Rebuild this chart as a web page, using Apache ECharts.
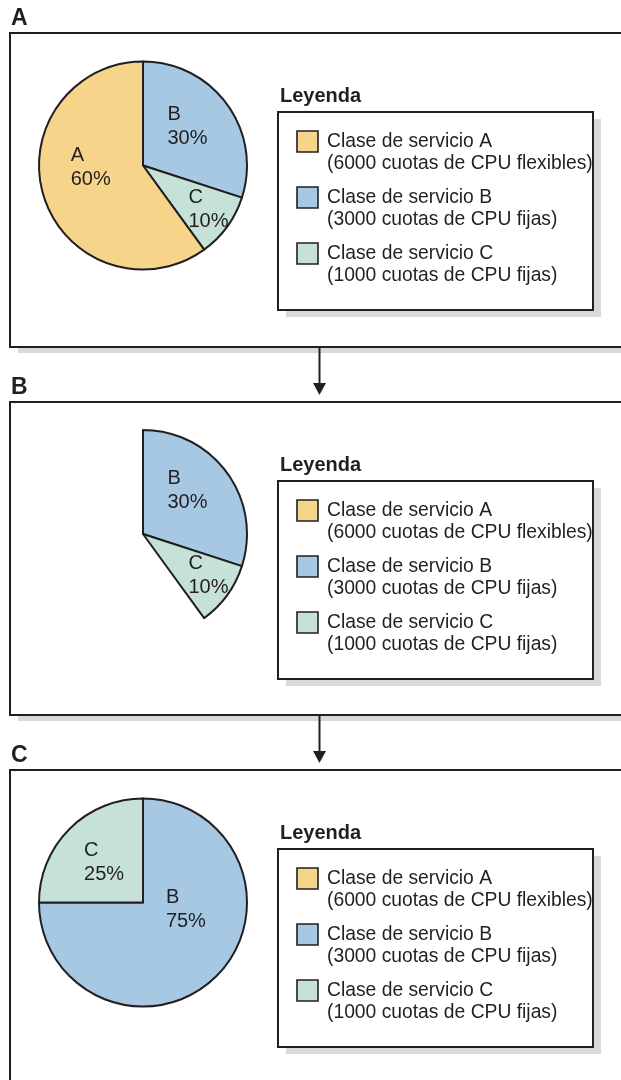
<!DOCTYPE html>
<html>
<head>
<meta charset="utf-8">
<script src="https://cdn.jsdelivr.net/npm/echarts@6/dist/echarts.min.js"></script>
<style>
html, body { margin: 0; padding: 0; background: #fff; }
#container { width: 621px; height: 1080px; }
</style>
</head>
<body>
<div id="container"></div>
<script>
// --- datos ---
var panelLabels = ['A', 'B', 'C'];
var panelASlices = ['B', 'C', 'A'];
var panelAShares = [30, 10, 60];
var panelBSlices = ['B', 'C', 'A'];
var panelBShares = [30, 10, 60];
var panelBHidden = ['A'];          // la clase A ya no tiene cuota en B
var panelCSlices = ['B', 'C'];
var panelCShares = [75, 25];
var legendTitle = 'Leyenda';
var legendKeys = ['A', 'B', 'C'];
var legendNames = ['Clase de servicio A', 'Clase de servicio B', 'Clase de servicio C'];
var legendDetails = ['(6000 cuotas de CPU flexibles)', '(3000 cuotas de CPU fijas)', '(1000 cuotas de CPU fijas)'];

// --- estilo ---
var colors = { A: '#f6d48a', B: '#a7c8e3', C: '#c6e2d8' };
var ink = '#231f20';
var shade = '#d9d9d9';
var font = '"Liberation Sans", Arial, Helvetica, sans-serif';
var panelTop = [33, 402, 770];
var panelBottom = [347, 715, 1200];
var pieCenterY = [165.5, 534, 902.5];
var labelNudge = [
  { A: [0, -15], B: [0, -7], C: [21, 12] },
  { B: [0, -11], C: [21, 9] },
  { B: [4, -32], C: [0, -1] }
];

var dom = document.getElementById('container');
var myChart = echarts.init(dom, null, { renderer: 'canvas' });

function pieSeries(i, names, shares, hidden) {
  hidden = hidden || [];
  return {
    type: 'pie',
    silent: true,
    animation: false,
    center: [143, pieCenterY[i]],
    radius: 104,
    startAngle: 90,
    clockwise: true,
    avoidLabelOverlap: false,
    labelLine: { show: false },
    emphasis: { disabled: true },
    itemStyle: { borderColor: ink, borderWidth: 2 },
    label: {
      show: true,
      position: 'inside',
      formatter: function (p) { return '{n|' + p.name + '}\n{n|' + p.value + '%}'; },
      rich: {
        n: { fontFamily: font, fontSize: 20, lineHeight: 24, color: ink, align: 'left' }
      }
    },
    data: names.map(function (n, k) {
      var item = { name: n, value: shares[k], itemStyle: { color: colors[n] } };
      if (hidden.indexOf(n) >= 0) {
        item.itemStyle = { color: 'rgba(0,0,0,0)', borderWidth: 0 };
        item.label = { show: false };
      } else {
        item.label = { offset: labelNudge[i][n] };
      }
      return item;
    })
  };
}

var graphics = [];
panelLabels.forEach(function (lab, i) {
  var top = panelTop[i], bottom = panelBottom[i];
  var dy = top - panelTop[0];
  // marco del panel con sombra
  graphics.push({ type: 'rect', silent: true, z2: 0,
    shape: { x: 18, y: top + 6, width: 700, height: bottom - top },
    style: { fill: shade } });
  graphics.push({ type: 'rect', silent: true, z2: 1,
    shape: { x: 10, y: top, width: 700, height: bottom - top },
    style: { fill: '#fff', stroke: ink, lineWidth: 2 } });
  // letra del panel
  graphics.push({ type: 'text', silent: true, z2: 5, x: 11, y: 18.5 + dy,
    style: { text: lab, font: 'bold 23px ' + font, fill: ink, verticalAlign: 'middle', align: 'left' } });
  // leyenda
  graphics.push({ type: 'text', silent: true, z2: 5, x: 280, y: 96.5 + dy,
    style: { text: legendTitle, font: 'bold 20px ' + font, fill: ink, verticalAlign: 'middle', align: 'left' } });
  graphics.push({ type: 'rect', silent: true, z2: 2,
    shape: { x: 286, y: 119 + dy, width: 315, height: 198 },
    style: { fill: shade } });
  graphics.push({ type: 'rect', silent: true, z2: 3,
    shape: { x: 278, y: 112 + dy, width: 315, height: 198 },
    style: { fill: '#fff', stroke: ink, lineWidth: 2 } });
  legendKeys.forEach(function (k, j) {
    var cy = 141.5 + dy + j * 56;
    graphics.push({ type: 'rect', silent: true, z2: 4,
      shape: { x: 297, y: cy - 10.5, width: 21, height: 21 },
      style: { fill: colors[k], stroke: ink, lineWidth: 1.6 } });
    graphics.push({ type: 'text', silent: true, z2: 5, x: 327, y: cy,
      style: { text: legendNames[j], font: '19.3px ' + font, fill: ink, verticalAlign: 'middle', align: 'left' } });
    graphics.push({ type: 'text', silent: true, z2: 5, x: 327, y: cy + 22,
      style: { text: legendDetails[j], font: '19.3px ' + font, fill: ink, verticalAlign: 'middle', align: 'left' } });
  });
  // flecha hacia el siguiente panel
  if (i < panelLabels.length - 1) {
    var y0 = bottom, y1 = panelTop[i + 1] - 7;
    graphics.push({ type: 'line', silent: true, z2: 5,
      shape: { x1: 319.5, y1: y0, x2: 319.5, y2: y1 - 6 },
      style: { stroke: ink, lineWidth: 2 } });
    graphics.push({ type: 'polygon', silent: true, z2: 5,
      shape: { points: [[313, y1 - 12], [326, y1 - 12], [319.5, y1]] },
      style: { fill: ink } });
  }
});

var option = {
  backgroundColor: '#fff',
  graphic: { elements: graphics },
  series: [
    pieSeries(0, panelASlices, panelAShares),
    pieSeries(1, panelBSlices, panelBShares, panelBHidden),
    pieSeries(2, panelCSlices, panelCShares)
  ]
};

myChart.setOption(option);
window.addEventListener('resize', myChart.resize);
</script>
</body>
</html>
